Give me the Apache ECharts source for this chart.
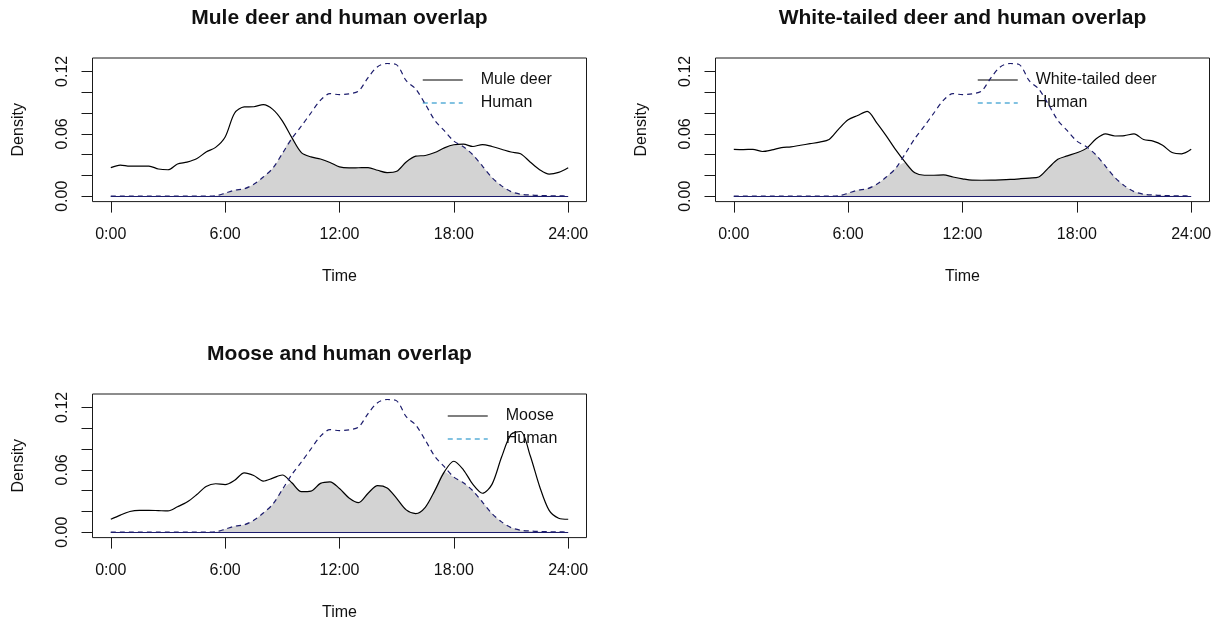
<!DOCTYPE html>
<html>
<head>
<meta charset="utf-8">
<script src="https://cdn.jsdelivr.net/npm/echarts@6/dist/echarts.min.js"></script>
<style>
html,body{margin:0;padding:0;background:#fff;}
#chart{width:1217px;height:623px;}
</style>
</head>
<body>
<div id="chart"></div>
<script>
// ---- data (hour of day, kernel density) ----
const hours = [0,0.5,1,1.5,2,2.5,3,3.5,4,4.5,5,5.5,6,6.5,7,7.5,8,8.5,9,9.5,10,10.5,11,11.5,
  12,12.5,13,13.5,14,14.5,15,15.5,16,16.5,17,17.5,18,18.5,19,19.5,20,20.5,21,21.5,22,22.5,23,23.5,24];

const humanDensity = [0.0002,0.0002,0.0003,0.0002,0.0002,0.0002,0.0002,0.0002,0.0002,0.0002,0.0002,0.0005,
  0.0030,0.0058,0.0072,0.0115,0.0185,0.0270,0.0410,0.0555,0.0675,0.0800,0.0922,0.0986,
  0.0976,0.0984,0.1010,0.1140,0.1245,0.1275,0.1262,0.1110,0.1030,0.0885,0.0730,0.0630,
  0.0530,0.0476,0.0398,0.0290,0.0180,0.0100,0.0045,0.0020,0.0012,0.0008,0.0005,0.0004,0.0002];

const muleDeerDensity = [0.0275,0.0300,0.0290,0.0290,0.0290,0.0262,0.0255,0.0310,0.0328,0.0360,0.0425,0.0470,
  0.0570,0.0800,0.0858,0.0860,0.0880,0.0835,0.0725,0.0563,0.0420,0.0378,0.0358,0.0325,
  0.0282,0.0273,0.0274,0.0275,0.0250,0.0228,0.0240,0.0330,0.0385,0.0392,0.0420,0.0465,
  0.0495,0.0500,0.0478,0.0497,0.0478,0.0452,0.0425,0.0408,0.0330,0.0256,0.0213,0.0230,0.0275];

const whiteTailedDensity = [0.0451,0.0449,0.0451,0.0430,0.0445,0.0467,0.0475,0.0490,0.0505,0.0520,0.0545,0.0645,
  0.0735,0.0776,0.0815,0.0705,0.0580,0.0445,0.0325,0.0225,0.0202,0.0202,0.0205,0.0185,
  0.0168,0.0155,0.0154,0.0155,0.0158,0.0162,0.0168,0.0175,0.0185,0.0270,0.0355,0.0388,
  0.0418,0.0460,0.0550,0.0600,0.0579,0.0582,0.0600,0.0545,0.0530,0.0490,0.0420,0.0408,0.0451];

const mooseDensity = [0.0125,0.0165,0.0200,0.0211,0.0211,0.0208,0.0205,0.0245,0.0290,0.0360,0.0440,0.0466,
  0.0458,0.0500,0.0570,0.0545,0.0492,0.0520,0.0550,0.0475,0.0390,0.0395,0.0470,0.0485,
  0.0420,0.0330,0.0285,0.0375,0.0448,0.0425,0.0325,0.0215,0.0180,0.0240,0.0400,0.0580,
  0.0682,0.0600,0.0460,0.0375,0.0460,0.0720,0.0940,0.0968,0.0740,0.0440,0.0210,0.0135,0.0125];

const tickHours = [0,6,12,18,24];
const timeLabels = ['0:00','6:00','12:00','18:00','24:00'];
const densityTicks = [0,0.02,0.04,0.06,0.08,0.10,0.12];
const densityLabelValues = [0,0.06,0.12];

const panelTitles = ['Mule deer and human overlap','White-tailed deer and human overlap','Moose and human overlap'];
const speciesNames = ['Mule deer','White-tailed deer','Moose'];
const speciesValues = [muleDeerDensity, whiteTailedDensity, mooseDensity];
const humanName = 'Human';

// ---- layout ----
const FONT = '"Liberation Sans", Arial, sans-serif';
const boxes = [
  {left: 92.5, top: 58, width: 494, height: 143.6, legendLeft: 422, legendTop: 71},
  {left: 715.5, top: 58, width: 494, height: 143.6, legendLeft: 977, legendTop: 71},
  {left: 92.5, top: 394, width: 494, height: 143.6, legendLeft: 447, legendTop: 407}
];
const HUMAN_COLOR = '#1c1c6c';
const HUMAN_LEGEND_COLOR = '#5aaed8';

const chart = echarts.init(document.getElementById('chart'), null, {renderer: 'canvas'});

const grids = [], xAxes = [], yAxes = [], series = [], titles = [], legends = [];

boxes.forEach((b, i) => {
  grids.push({left: b.left, top: b.top, width: b.width, height: b.height, show: true,
    borderColor: '#1a1a1a', borderWidth: 1, backgroundColor: 'transparent', containLabel: false});
  titles.push({text: panelTitles[i], left: b.left + b.width / 2, top: b.top - 50, textAlign: 'center',
    padding: 0, textStyle: {fontFamily: FONT, fontSize: 21, fontWeight: 'bold', color: '#111'}});
  xAxes.push({type: 'value', gridIndex: i, min: -0.96, max: 24.96,
    name: 'Time', nameLocation: 'middle', nameGap: 67,
    nameTextStyle: {fontFamily: FONT, fontSize: 16, color: '#111'},
    axisLine: {show: false, onZero: false}, splitLine: {show: false},
    axisTick: {show: true, customValues: tickHours, length: 11, lineStyle: {color: '#1a1a1a', width: 1}},
    axisLabel: {show: true, customValues: tickHours, margin: 25, fontFamily: FONT, fontSize: 16, color: '#111',
      formatter: v => timeLabels[tickHours.indexOf(Math.round(v))] || ''}
  });
  yAxes.push({type: 'value', gridIndex: i, min: -0.0051, max: 0.1328,
    name: 'Density', nameLocation: 'middle', nameGap: 66, nameRotate: 90,
    nameTextStyle: {fontFamily: FONT, fontSize: 16, color: '#111'},
    axisLine: {show: false, onZero: false}, splitLine: {show: false},
    axisTick: {show: true, customValues: densityTicks, length: 11, lineStyle: {color: '#1a1a1a', width: 1}},
    axisLabel: {show: true, customValues: densityLabelValues, rotate: 90, margin: 22, fontFamily: FONT,
      fontSize: 16, color: '#111', formatter: v => v.toFixed(2)}
  });
  const sp = speciesValues[i];
  // overlap region = min of the two densities at each hour
  series.push({type: 'line', name: 'overlap' + i, xAxisIndex: i, yAxisIndex: i, silent: true,
    data: hours.map((h, k) => [h, Math.min(sp[k], humanDensity[k])]),
    symbol: 'none', smooth: 0.3, lineStyle: {width: 0}, z: 1,
    areaStyle: {color: '#d3d3d3', opacity: 1}});
  series.push({type: 'line', name: speciesNames[i], xAxisIndex: i, yAxisIndex: i,
    data: hours.map((h, k) => [h, sp[k]]), symbol: 'none', smooth: 0.3, z: 3,
    lineStyle: {color: '#000', width: 1.2}, itemStyle: {color: '#000'}});
  series.push({type: 'line', name: humanName, xAxisIndex: i, yAxisIndex: i,
    data: hours.map((h, k) => [h, humanDensity[k]]), symbol: 'none', smooth: 0.3, z: 4,
    lineStyle: {color: HUMAN_COLOR, width: 1.2, type: [5, 4]}, itemStyle: {color: HUMAN_COLOR},
    markLine: {silent: true, symbol: 'none', label: {show: false},
      lineStyle: {color: HUMAN_COLOR, type: 'solid', width: 1.2},
      data: [[{coord: [tickHours[0], 0]}, {coord: [tickHours[tickHours.length - 1], 0]}]]}});
  legends.push({orient: 'vertical', left: b.legendLeft, top: b.legendTop, padding: 0,
    itemWidth: 40, itemHeight: 14, itemGap: 5, selectedMode: false,
    textStyle: {fontFamily: FONT, fontSize: 16, lineHeight: 18, color: '#111', padding: [0, 0, 0, 13]},
    data: [
      {name: speciesNames[i], itemStyle: {color: 'transparent', borderWidth: 0},
        lineStyle: {color: '#000', width: 1.2, type: 'solid'}},
      {name: humanName, itemStyle: {color: 'transparent', borderWidth: 0},
        lineStyle: {color: HUMAN_LEGEND_COLOR, width: 1.5, type: [5, 4], opacity: 1}}
    ]});
});

chart.setOption({
  animation: false,
  backgroundColor: '#ffffff',
  title: titles,
  legend: legends,
  grid: grids,
  xAxis: xAxes,
  yAxis: yAxes,
  series: series
});
</script>
</body>
</html>
